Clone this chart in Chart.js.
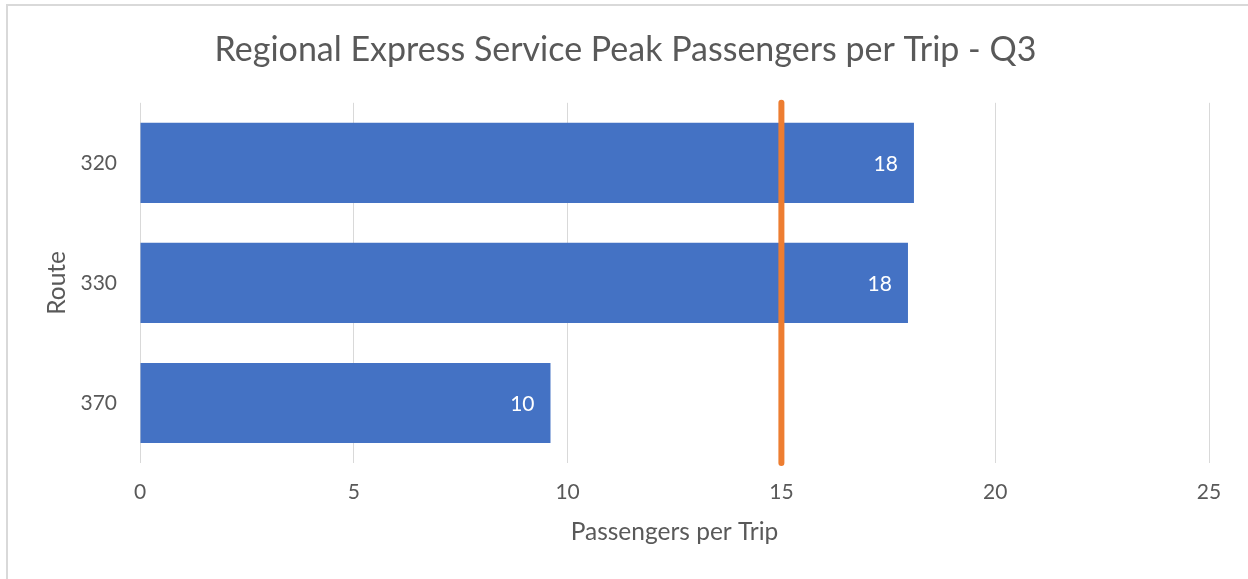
<!DOCTYPE html>
<html lang="en">
<head>
    <meta charset="UTF-8">
    <title>Regional Express Service Peak Passengers per Trip - Q3</title>
    <script src="https://cdn.jsdelivr.net/npm/chart.js"></script>
    <style>
        body {
            margin: 0;
            background: white;
            overflow: hidden;
        }
        .chart-box {
            position: relative;
            width: 1248px;
            height: 579px;
        }
        .frame {
            position: absolute;
            left: 6px;
            top: 4px;
            width: 1300px;
            height: 700px;
            border-left: 2px solid #d9d9d9;
            border-top: 2px solid #d9d9d9;
            pointer-events: none;
        }
    </style>
</head>
<body>
    <div class="chart-box">
        <canvas id="routeChart" width="1248" height="579"></canvas>
        <div class="frame"></div>
    </div>

    <script>
        const routes = ["320", "330", "370"];
        const passengersPerTrip = [18.1, 17.96, 9.6];
        const targetLevel = 15;
        const xTicks = [0, 5, 10, 15, 20, 25];

        const textColor = "#595959";
        const gridColor = "#d9d9d9";

        // white value labels sitting just inside the end of each bar
        const barLabels = {
            id: "barLabels",
            afterDatasetsDraw(chart) {
                const ctx = chart.ctx;
                const meta = chart.getDatasetMeta(0);
                ctx.save();
                ctx.fillStyle = "white";
                ctx.font = "21px Lato";
                ctx.textAlign = "right";
                ctx.textBaseline = "middle";
                meta.data.forEach((bar, i) => {
                    ctx.fillText(Math.round(passengersPerTrip[i]), bar.x - 16, bar.y + 1);
                });
                ctx.restore();
            }
        };

        const chart = new Chart(document.getElementById("routeChart"), {
            type: "bar",
            data: {
                labels: routes,
                datasets: [
                    {
                        type: "bar",
                        data: passengersPerTrip,
                        backgroundColor: "#4472c4",
                        categoryPercentage: 1,
                        barPercentage: 0.667,
                        grouped: false,
                        order: 2
                    },
                    {
                        // target line running the full height of the plot
                        type: "line",
                        data: [{ x: targetLevel, y: 0 }, { x: targetLevel, y: 1 }],
                        yAxisID: "yLine",
                        borderColor: "#ed7d31",
                        borderWidth: 6,
                        borderCapStyle: "round",
                        pointRadius: 0,
                        clip: false,
                        order: 1
                    }
                ]
            },
            options: {
                indexAxis: "y",
                responsive: false,
                animation: false,
                layout: { padding: { left: 42, right: 39, top: 0, bottom: 24 } },
                scales: {
                    x: {
                        min: 0,
                        max: 25,
                        afterBuildTicks: (scale) => {
                            scale.ticks = xTicks.map(v => ({ value: v }));
                        },
                        afterFit: (scale) => { scale.height = 92; },
                        grid: { color: gridColor, drawTicks: false },
                        border: { display: false },
                        ticks: { color: textColor, font: { family: "Lato", size: 21 }, padding: 17 },
                        title: {
                            display: true,
                            text: "Passengers per Trip",
                            color: textColor,
                            font: { family: "Lato", size: 24.5 },
                            padding: { top: 0, bottom: 8 }
                        }
                    },
                    y: {
                        grid: { display: false, drawTicks: false },
                        border: { display: false },
                        ticks: { color: textColor, font: { family: "Lato", size: 21 }, padding: 23 },
                        title: {
                            display: true,
                            text: "Route",
                            color: textColor,
                            font: { family: "Lato", size: 24.5 },
                            padding: { top: 0, bottom: 0 }
                        },
                        afterFit: (scale) => { scale.width = 98; }
                    },
                    yLine: {
                        type: "linear",
                        display: false,
                        offset: false,
                        grid: { offset: false },
                        min: 0,
                        max: 1
                    }
                },
                plugins: {
                    legend: { display: false },
                    tooltip: { enabled: false },
                    title: {
                        display: true,
                        text: "Regional Express Service Peak Passengers per Trip - Q3",
                        color: textColor,
                        font: { family: "Lato", size: 34, weight: "normal" },
                        padding: { top: 30, bottom: 32 }
                    }
                }
            },
            plugins: [barLabels]
        });
    </script>
</body>
</html>
